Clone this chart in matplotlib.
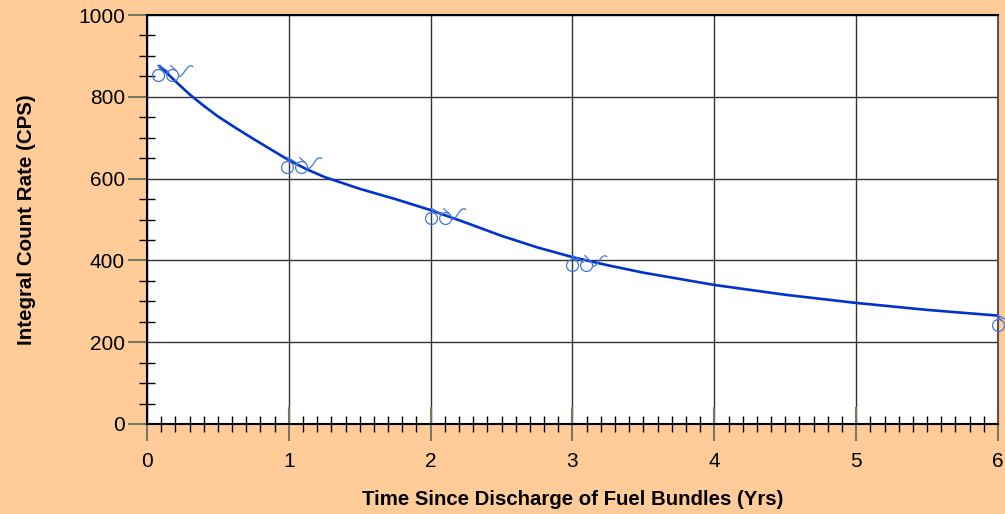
"""Integral count rate versus time since discharge of fuel bundles."""
import numpy as np
import matplotlib
matplotlib.use("Agg")
import matplotlib.pyplot as plt
from matplotlib.path import Path
from matplotlib.ticker import MultipleLocator

# measured points (marker glyphs)
meas_years = [0.08, 0.99, 2.0, 3.0, 6.0]
meas_cps = [853, 628, 504, 389, 242]

# fitted curve
fit_years = [0.09, 0.2, 0.3, 0.4, 0.5, 0.625, 0.75, 0.875, 1.0, 1.125, 1.25,
             1.5, 1.75, 2.0, 2.25, 2.5, 2.75, 3.0, 3.25, 3.5, 4.0, 4.5,
             5.0, 5.5, 6.0]
fit_cps = [875, 838, 806, 778, 752, 724, 697, 671, 645, 623, 604,
           575, 550, 523, 492, 460, 432, 408, 388, 370, 340, 316,
           296, 279, 265]

x_ticks = [0, 1, 2, 3, 4, 5, 6]
y_ticks = [0, 200, 400, 600, 800, 1000]

BG = "#FFCC99"
FONT = ["Liberation Sans", "DejaVu Sans"]
plt.rcParams["font.family"] = FONT


def glasses_marker():
    # two small loops joined, with a wavy tail to the right
    circ = Path.unit_circle()
    c1 = circ.vertices * 1.1
    c2 = circ.vertices * 1.1 + np.array([2.6, 0.0])
    verts = list(c1) + list(c2)
    codes = list(circ.codes) + list(circ.codes)
    # stems of the loops
    verts += [(0.6, 0.9), (-0.2, 1.9), (3.2, 0.9), (2.2, 1.9)]
    codes += [Path.MOVETO, Path.LINETO, Path.MOVETO, Path.LINETO]
    # bridge and tail
    verts += [(-0.2, 1.9), (1.0, 1.5), (2.0, 0.5), (3.7, -0.1),
              (4.6, -0.6), (5.2, 2.6), (6.4, 1.6)]
    codes += [Path.MOVETO, Path.CURVE3, Path.CURVE3, Path.MOVETO,
              Path.CURVE4, Path.CURVE4, Path.CURVE4]
    return Path(verts, codes)


fig = plt.figure(figsize=(10.05, 5.14), dpi=100, facecolor=BG)
ax = fig.add_axes([0.1463, 0.1751, 0.8467, 0.7957])
ax.set_facecolor("white")

ax.set_xlim(0, 6)
ax.set_ylim(0, 1000)
ax.set_xticks(x_ticks)
ax.set_yticks(y_ticks)
ax.xaxis.set_minor_locator(MultipleLocator(0.1))
ax.yaxis.set_minor_locator(MultipleLocator(50))

ax.grid(True, which="major", color="#333333", lw=1.0)
ax.set_axisbelow(True)

ax.plot(fit_years, fit_cps, color="#0033CC", lw=1.9, zorder=3)
ax.plot(meas_years, meas_cps, ls="none", marker=glasses_marker(),
        markersize=50, markerfacecolor="none", markeredgecolor="#4477DD",
        markeredgewidth=0.9, clip_on=False, zorder=4)

for side in ["left", "bottom", "top"]:
    ax.spines[side].set_linewidth(1.5)
    ax.spines[side].set_color("black")
ax.spines["right"].set_color("#555555")
ax.spines["right"].set_linewidth(1.5)

ax.tick_params(axis="both", which="major", direction="out", length=14,
               width=1.5, color="#777766", labelsize=15)
ax.tick_params(axis="y", which="major", pad=2)
ax.tick_params(axis="x", which="major", direction="inout", length=24, pad=8)
ax.tick_params(axis="both", which="minor", direction="inout", length=11,
               width=1.0, color="black")

ax.set_xlabel("Time Since Discharge of Fuel Bundles (Yrs)", fontsize=14.7,
              fontweight="bold", labelpad=14)
ax.set_ylabel("Integral Count Rate (CPS)", fontsize=14.8,
              fontweight="bold", labelpad=30)

fig.savefig("out.png", dpi=100, facecolor=BG)
